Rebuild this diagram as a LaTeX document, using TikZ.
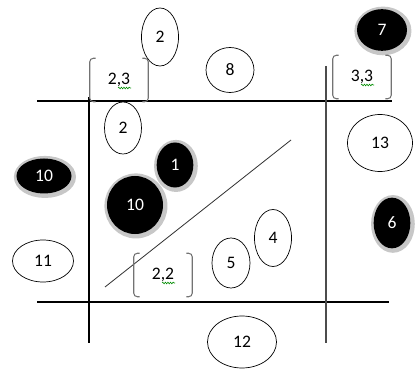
\documentclass[tikz,border=0pt]{standalone}
\usepackage{fontspec}
\setmainfont{Carlito}
\usetikzlibrary{shapes.geometric,decorations.pathmorphing}

\begin{document}
\begin{tikzpicture}[
    x=0.03cm, y=-0.03cm,
    font=\fontsize{15}{18}\selectfont,
    oval/.style 2 args={
        ellipse,
        draw=black,
        fill=white,
        line width=0.6pt,
        minimum width=#1,
        minimum height=#2,
        inner sep=0pt
    },
    blob/.style 2 args={
        ellipse,
        fill=black,
        text=white,
        minimum width=#1,
        minimum height=#2,
        inner sep=0pt,
        preaction={draw=black!22, line width=6pt,
            transform canvas={shift={(0.8pt,-0.8pt)}}}
    },
    pair/.style={
        minimum width=1.74cm,
        minimum height=1.29cm,
        inner sep=0pt
    },
    axis/.style={line width=0.9pt},
    brace/.style={draw=black!55, line width=0.9pt, rounded corners=3pt},
    squig/.style={draw=green!55!black, line width=0.5pt, decorate,
        decoration={snake, amplitude=0.7pt, segment length=2.2pt}}
]
\useasboundingbox (0,0) rectangle (415,369);

%-----------------------------------
% Axes
%-----------------------------------
\coordinate (hT1) at (37,101);
\coordinate (hT2) at (392,101);
\coordinate (hB1) at (37,302);
\coordinate (hB2) at (389,302);
\coordinate (vL1) at (89,97);
\coordinate (vL2) at (89,343);
\coordinate (vR1) at (326,66);
\coordinate (vR2) at (326,343);
\coordinate (dg1) at (105,287);
\coordinate (dg2) at (291,140);

\draw[axis] (hT1) -- (hT2);
\draw[axis] (hB1) -- (hB2);
\draw[axis] (vL1) -- (vL2);
\draw[axis, black!70] (vR1) -- (vR2);
\draw[line width=0.7pt, black!80] (dg1) -- (dg2);

%-----------------------------------
% Open ovals
%-----------------------------------
\node[oval={1.11cm}{1.74cm}] (top2) at (160,37) {2};
\node[oval={1.11cm}{1.56cm}] (in2) at (123,128) {2};
\node[oval={1.44cm}{1.35cm}] (o8) at (230,70) {8};
\node[oval={1.95cm}{1.71cm}] (o13) at (380,143) {13};
\node[oval={1.83cm}{1.26cm}] (o11) at (43,261) {11};
\node[oval={1.14cm}{1.50cm}] (o5) at (231,263) {5};
\node[oval={1.11cm}{1.71cm}] (o4) at (273,238) {4};
\node[oval={2.07cm}{1.56cm}] (o12) at (242,342) {12};

%-----------------------------------
% Filled ovals
%-----------------------------------
\node[blob={1.50cm}{1.25cm}] (b7) at (382,30) {7};
\node[blob={1.65cm}{1.05cm}] (b10a) at (44,176) {10};
\node[blob={1.10cm}{1.35cm}] (b1) at (175,165) {1};
\node[blob={1.68cm}{1.74cm}] (b10b) at (135,205) {10};
\node[blob={1.10cm}{1.52cm}] (b6) at (392,223) {6};

%-----------------------------------
% Bracketed pairs
%-----------------------------------
\node[pair] (m23) at (119,80) {2,3};
\node[pair] (m33) at (362,77) {3,3};
\node[pair] (m22) at (163,275) {2,2};

\foreach \m in {m23,m33,m22} {
    \draw[brace] ([xshift=5pt]\m.north west) -- (\m.north west)
        -- (\m.south west) -- ([xshift=5pt]\m.south west);
    \draw[brace] ([xshift=-5pt]\m.north east) -- (\m.north east)
        -- (\m.south east) -- ([xshift=-5pt]\m.south east);
    \draw[squig] ([shift={(-1,8)}]\m.center) -- ([shift={(12,8)}]\m.center);
}

\end{tikzpicture}
\end{document}
